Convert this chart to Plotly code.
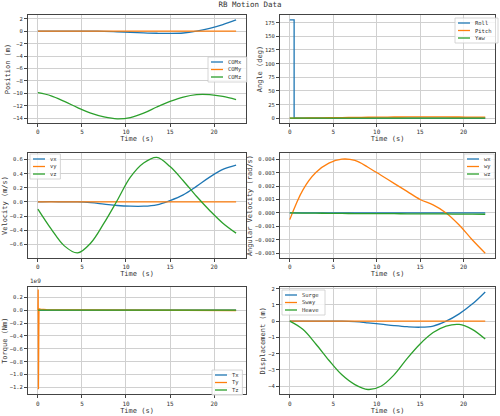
import plotly.graph_objects as go
from plotly.subplots import make_subplots

t = [0, 1.5, 3, 4.5, 6, 7.5, 9, 10.5, 12, 13.5, 15, 16.5, 18, 19.5, 21, 22.5]

com_x = [0, 0, 0, 0, 0, -0.03, -0.1, -0.18, -0.27, -0.34, -0.37, -0.3, 0, 0.45, 1.05, 1.8]
com_y = [0] * 16
com_z = [-9.9, -10.4, -11.3, -12.3, -13.2, -13.8, -14.1, -13.9, -13.2, -12.2, -11.3, -10.6, -10.2, -10.2, -10.5, -11.0]

roll_t = [0, 0.5, 0.5, 22.5]
roll = [180, 180, 0, 0]
pitch = [0, 0.3, 0.6, 0.9, 1.2, 1.5, 1.8, 2.0, 2.2, 2.3, 2.4, 2.4, 2.3, 2.2, 2.1, 2.0]
yaw = [0] * 16

vx = [0, 0.005, 0, 0, -0.01, -0.03, -0.05, -0.06, -0.06, -0.04, 0.02, 0.1, 0.22, 0.35, 0.46, 0.52]
vy = [0] * 16
vz = [-0.1, -0.38, -0.62, -0.72, -0.58, -0.3, 0.02, 0.35, 0.55, 0.63, 0.5, 0.3, 0.08, -0.12, -0.3, -0.44]

wx = [0] * 16
wy = [-0.0005, 0.0017, 0.003, 0.0037, 0.004, 0.0039, 0.0034, 0.0028, 0.0022, 0.0016, 0.001, 0.0006, 0.0, -0.0009, -0.002, -0.003]
wz = [0, -0.00001, -0.00002, -0.00003, -0.00004, -0.00005, -0.00005, -0.00006, -0.00006, -0.00007, -0.00007, -0.00008, -0.00008, -0.00009, -0.00009, -0.0001]

torque_t = [0, 0.03, 0.06, 0.09, 0.12, 0.3, 1, 5, 10, 15, 20, 22.5]
tx = [0] * 12
ty = [0, 0.32, -1.23, -0.1, 0.02, 0.015, 0.01, 0.005, 0, 0, -0.005, -0.005]  # x1e9
tz = [0] * 12

surge = [0, 0, 0, 0, 0, -0.03, -0.1, -0.18, -0.27, -0.34, -0.37, -0.3, 0, 0.45, 1.05, 1.8]
sway = [0] * 16
heave = [0, -0.5, -1.4, -2.4, -3.3, -3.9, -4.2, -4.0, -3.3, -2.3, -1.4, -0.7, -0.3, -0.2, -0.5, -1.1]

colors = ['#1f77b4', '#ff7f0e', '#2ca02c']
W, H = 500, 416

fig = make_subplots(rows=3, cols=2)

# (row, col, legend box left/top in px, series)
panels = [
    (1, 1, (208, 57), [(t, com_x, 'COMx'), (t, com_y, 'COMy'), (t, com_z, 'COMz')]),
    (1, 2, (455, 18), [(roll_t, roll, 'Roll'), (t, pitch, 'Pitch'), (t, yaw, 'Yaw')]),
    (2, 1, (30, 154), [(t, vx, 'vx'), (t, vy, 'vy'), (t, vz, 'vz')]),
    (2, 2, (464, 154), [(t, wx, 'wx'), (t, wy, 'wy'), (t, wz, 'wz')]),
    (3, 1, (212, 370), [(torque_t, tx, 'Tx'), (torque_t, ty, 'Ty'), (torque_t, tz, 'Tz')]),
    (3, 2, (282, 290), [(t, surge, 'Surge'), (t, sway, 'Sway'), (t, heave, 'Heave')]),
]
for r, c, (lx, ly), series in panels:
    bw = 22 + 4.2 * max(len(s[2]) for s in series)
    fig.add_shape(type='rect', xref='paper', yref='paper',
                  x0=lx / W, x1=(lx + bw) / W, y0=1 - ly / H, y1=1 - (ly + 25) / H,
                  line=dict(color='#ccc', width=0.8), fillcolor='rgba(255,255,255,0.8)')
    for i, (xs, ys, name) in enumerate(series):
        shape = 'linear' if (xs is roll_t or xs is torque_t) else 'spline'
        fig.add_trace(go.Scatter(x=xs, y=ys, name=name, mode='lines', showlegend=False,
                                 line=dict(color=colors[i], width=1.3, shape=shape)),
                      row=r, col=c)
        yy = 1 - (ly + 5 + 7.5 * i) / H
        fig.add_shape(type='line', xref='paper', yref='paper',
                      x0=(lx + 3) / W, x1=(lx + 15) / W, y0=yy, y1=yy,
                      line=dict(color=colors[i], width=1.3))
        fig.add_annotation(text=name, xref='paper', yref='paper', x=(lx + 18) / W, y=yy,
                           xanchor='left', yanchor='middle', showarrow=False,
                           font=dict(size=5.5))

xd = [[0.056, 0.492], [0.56, 0.99]]
yd = [[0.704, 0.964], [0.380, 0.632], [0.052, 0.310]]
ytitles = [['Position (m)', 'Angle (deg)'], ['Velocity (m/s)', 'Angular Velocity (rad/s)'],
           ['Torque (Nm)', 'Displacement (m)']]
for r in range(3):
    for c in range(2):
        fig.update_xaxes(domain=xd[c], range=[-1.125, 23.625], title_text='Time (s)',
                         title_standoff=0, dtick=5, row=r + 1, col=c + 1)
        fig.update_yaxes(domain=yd[r], title_text=ytitles[r][c], title_standoff=1,
                         row=r + 1, col=c + 1)

fig.update_xaxes(showline=True, mirror=True, linecolor='#444', gridcolor='#d0d0d0',
                 ticks='outside', ticklen=3, zeroline=False)
fig.update_yaxes(showline=True, mirror=True, linecolor='#444', gridcolor='#d0d0d0',
                 ticks='outside', ticklen=3, zeroline=False, tickfont=dict(size=5.5))
fig.update_yaxes(dtick=2, range=[-14.8, 2.6], row=1, col=1)
fig.update_yaxes(dtick=25, range=[-9, 189], row=1, col=2)
fig.update_yaxes(dtick=0.2, tickformat='.1f', range=[-0.79, 0.69], row=2, col=1)
fig.update_yaxes(dtick=0.001, tickformat='.3f', range=[-0.00335, 0.00445], row=2, col=2)
fig.update_yaxes(dtick=0.2, tickformat='.1f', range=[-1.31, 0.36], row=3, col=1)
fig.update_yaxes(dtick=1, range=[-4.5, 2.1], row=3, col=2)

fig.add_annotation(text='1e9', x=0.056, y=0.312, xref='paper', yref='paper',
                   xanchor='left', yanchor='bottom', showarrow=False, font=dict(size=6))

fig.update_layout(
    title=dict(text='RB Motion Data', x=0.5, y=0.995, yanchor='top', font=dict(size=7.5)),
    font=dict(family='DejaVu Sans Mono', size=6, color='#333'),
    plot_bgcolor='white', paper_bgcolor='white', showlegend=False,
    width=W, height=H, margin=dict(l=0, r=0, t=0, b=0),
)

fig.write_html('out.html', config={'displayModeBar': False},
               post_script="document.body.style.margin='0';")
